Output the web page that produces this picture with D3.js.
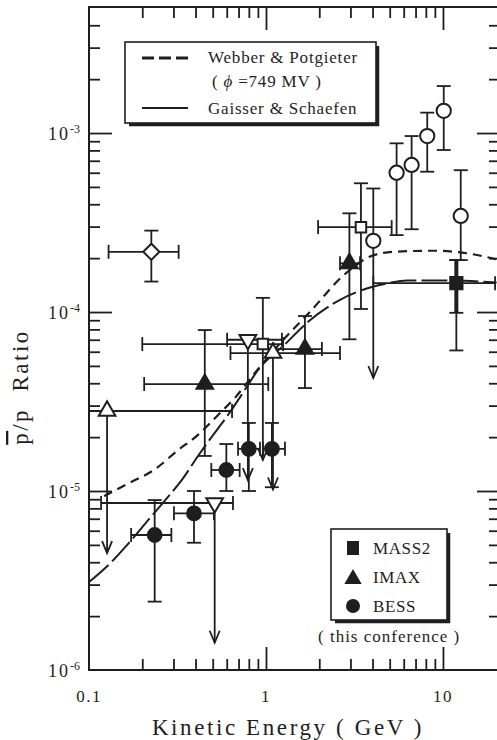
<!DOCTYPE html>
<html>
<head>
<meta charset="utf-8">
<script src="https://cdn.jsdelivr.net/npm/d3@7"></script>
<style>
body{margin:0;background:#fff;}
text{font-family:"Liberation Serif","DejaVu Serif",serif;fill:#1e1e1e;}
</style>
</head>
<body>
<svg id="chart" width="497" height="740"></svg>
<script>
// model curves
const webberE = [0.1216, 0.166, 0.235, 0.318, 0.413, 0.536, 0.665, 0.863, 1.25, 1.77, 2.68, 3.87, 5.22, 8.81, 13.6, 20.1];
const webberR = [9.37e-6, 1.10e-5, 1.32e-5, 1.69e-5, 2.06e-5, 2.66e-5, 3.30e-5, 4.55e-5, 6.98e-5, 1.0e-4, 1.57e-4, 2.04e-4, 2.17e-4, 2.20e-4, 2.13e-4, 1.97e-4];
const gaisserE = [0.1, 0.1315, 0.1706, 0.2164, 0.275, 0.334, 0.413, 0.47, 0.61, 0.758, 0.902, 1.28, 1.73, 2.62, 3.87, 4.91, 6.24, 10.5, 20.1];
const gaisserR = [3.10e-6, 3.94e-6, 5.21e-6, 6.89e-6, 9.1e-6, 1.15e-5, 1.57e-5, 1.88e-5, 2.66e-5, 3.66e-5, 4.75e-5, 6.6e-5, 8.83e-5, 1.17e-4, 1.37e-4, 1.45e-4, 1.5e-4, 1.5e-4, 1.46e-4];

// this conference
const mass2 = [{e: 11.9, r: 1.45e-4, elo: 4.04, ehi: 19.7, rlo: 9.9e-5, rhi: 1.95e-4, rlo2: 6.1e-5}];
const imax = [
  {e: 0.451, r: 3.96e-5, elo: 0.205, ehi: 1.03, rlo: 1.57e-5, rhi: 7.93e-5},
  {e: 1.66, r: 6.21e-5, elo: 1.10, ehi: 2.07, rlo: 3.76e-5, rhi: 9.5e-5},
  {e: 2.96, r: 1.87e-4, elo: 2.62, ehi: 3.40, rlo: 7.04e-5, rhi: 3.56e-4}
];
const bess = [
  {e: 0.235, r: 5.68e-6, elo: 0.173, ehi: 0.292, rlo: 2.41e-6, rhi: 8.9e-6},
  {e: 0.392, r: 7.5e-6, elo: 0.302, ehi: 0.508, rlo: 5.14e-6, rhi: 1.0e-5},
  {e: 0.597, r: 1.31e-5, elo: 0.491, ehi: 0.71, rlo: 1.0e-5, rhi: 1.83e-5},
  {e: 0.80, r: 1.72e-5, elo: 0.695, ehi: 0.925, rlo: 1.0e-5, rhi: 2.40e-5},
  {e: 1.08, r: 1.72e-5, elo: 0.962, ehi: 1.28, rlo: 1.05e-5, rhi: 2.40e-5}
];

// earlier measurements (open symbols), lim = upper limit arrow
const openCircles = [
  {e: 4.04, r: 2.50e-4, rhi: 4.9e-4, lim: 4.28e-5},
  {e: 5.47, r: 6.0e-4, rlo: 2.69e-4, rhi: 8.76e-4},
  {e: 6.65, r: 6.63e-4, rlo: 2.9e-4, rhi: 9.62e-4},
  {e: 8.15, r: 9.62e-4, rlo: 6.08e-4, rhi: 1.30e-3},
  {e: 10.1, r: 1.33e-3, rlo: 8.04e-4, rhi: 1.83e-3},
  {e: 12.6, r: 3.44e-4, rlo: 1.95e-4, rhi: 6.2e-4}
];
const openSquares = [
  {e: 0.96, r: 6.62e-5, elo: 0.2, ehi: 1.25, rhi: 1.2e-4, lim: 1.49e-5},
  {e: 3.44, r: 2.98e-4, elo: 1.97, ehi: 5.13, rlo: 1.04e-4, rhi: 5.24e-4}
];
const openDown = [
  {e: 0.79, r: 7.0e-5, elo: 0.603, ehi: 1.23, lim: 1.15e-5},
  {e: 0.513, r: 8.57e-6, elo: 0.117, ehi: 0.651, lim: 1.42e-6}
];
const openUp = [
  {e: 0.1265, r: 2.8e-5, elo: 0.09, ehi: 0.643, lim: 4.5e-6},
  {e: 1.095, r: 5.9e-5, elo: 0.63, ehi: 2.62, lim: 1.02e-5}
];
const openDiamond = [{e: 0.225, r: 2.17e-4, elo: 0.129, ehi: 0.321, rlo: 1.48e-4, rhi: 2.85e-4}];

// ticks
const xMajor = [0.1, 1, 10];
const xMajorLabels = ["0.1", "1", "10"];
const xMinor = [0.2, 0.3, 0.4, 0.5, 0.6, 0.7, 0.8, 0.9, 2, 3, 4, 5, 6, 7, 8, 9];
const yMajor = [1e-6, 1e-5, 1e-4, 1e-3];
const yMajorExp = ["-6", "-5", "-4", "-3"];
const yMinor = [2e-6, 3e-6, 4e-6, 5e-6, 6e-6, 7e-6, 8e-6, 9e-6,
                2e-5, 3e-5, 4e-5, 5e-5, 6e-5, 7e-5, 8e-5, 9e-5,
                2e-4, 3e-4, 4e-4, 5e-4, 6e-4, 7e-4, 8e-4, 9e-4,
                2e-3, 3e-3, 4e-3];

const ink = "#1e1e1e";
const L = 89, R = 500, T = 7, B = 670;
const svg = d3.select("#chart");
svg.append("rect").attr("width", 497).attr("height", 740).attr("fill", "#fff");

const x = d3.scaleLog().domain([0.1, 21]).range([L, R]);
const y = d3.scaleLog().domain([1e-6, 5.06e-3]).range([B, T]);

// axes, all ticks pointing inward
function ax(axisFn, vals, size, tr){
  let g = svg.append("g").attr("transform", tr)
    .call(axisFn.tickValues(vals).tickSize(-size).tickSizeOuter(0).tickFormat(""));
  g.select(".domain").remove();
  g.selectAll("line").attr("stroke", ink).attr("stroke-width", 1.8);
}
ax(d3.axisBottom(x), xMinor, 11, `translate(0,${B})`);
ax(d3.axisBottom(x), [1, 10], 23, `translate(0,${B})`);
ax(d3.axisTop(x), xMinor, 11, `translate(0,${T})`);
ax(d3.axisTop(x), [1, 10], 23, `translate(0,${T})`);
ax(d3.axisLeft(y), yMinor, 11, `translate(${L},0)`);
ax(d3.axisLeft(y), yMajor.slice(1), 23, `translate(${L},0)`);
ax(d3.axisRight(y), yMinor, 11, `translate(${R},0)`);
ax(d3.axisRight(y), yMajor.slice(1), 23, `translate(${R},0)`);

svg.append("rect").attr("x", L).attr("y", T).attr("width", R - L).attr("height", B - T)
  .attr("fill", "none").attr("stroke", ink).attr("stroke-width", 2);

// tick labels
svg.selectAll(".xl").data(xMajor).join("text").attr("class", "xl")
  .attr("x", d => x(d)).attr("y", 702).attr("text-anchor", "middle")
  .attr("font-size", 17).attr("letter-spacing", 1.5)
  .text((d, i) => xMajorLabels[i]);

let yl = svg.selectAll(".yl").data(yMajor).join("text").attr("class", "yl")
  .attr("x", 80).attr("y", d => y(d) + 7).attr("text-anchor", "end")
  .attr("font-size", 18).attr("letter-spacing", 2);
yl.append("tspan").text("10");
yl.append("tspan").attr("dy", -7).attr("font-size", 12).attr("letter-spacing", 0)
  .text((d, i) => yMajorExp[i]);

// axis titles
svg.append("text").attr("x", 288).attr("y", 735).attr("text-anchor", "middle")
  .attr("font-size", 23).attr("letter-spacing", 2.6).text("Kinetic Energy ( GeV )");
let yt = svg.append("text").attr("transform", "translate(28,387) rotate(-90)")
  .attr("text-anchor", "middle").attr("font-size", 23).attr("letter-spacing", 2.5);
yt.append("tspan").attr("text-decoration", "overline").text("p");
yt.append("tspan").text("/p\u00a0\u00a0Ratio");

// clip for data
svg.append("clipPath").attr("id", "plotclip").append("rect")
  .attr("x", L).attr("y", T).attr("width", R - L).attr("height", B - T);
const plot = svg.append("g").attr("clip-path", "url(#plotclip)");

// curves
const line = d3.line().x(d => x(d[0])).y(d => y(d[1])).curve(d3.curveMonotoneX);
plot.append("path").datum(d3.zip(webberE, webberR)).attr("d", line)
  .attr("fill", "none").attr("stroke", ink).attr("stroke-width", 2.2).attr("stroke-dasharray", "9,6");
plot.append("path").datum(d3.zip(gaisserE, gaisserR)).attr("d", line)
  .attr("fill", "none").attr("stroke", ink).attr("stroke-width", 2).attr("stroke-dasharray", "26,5");

// error bars
const cap = 7;
function seg(g, x1, y1, x2, y2, w){
  return g.append("line").attr("x1", x1).attr("y1", y1).attr("x2", x2).attr("y2", y2)
    .attr("stroke", ink).attr("stroke-width", w || 1.8);
}
function errBars(data){
  data.forEach(d => {
    const g = plot.append("g"), cx = x(d.e), cy = y(d.r);
    if (d.elo){
      seg(g, x(d.elo), cy, x(d.ehi), cy);
      seg(g, x(d.elo), cy - cap, x(d.elo), cy + cap);
      seg(g, x(d.ehi), cy - cap, x(d.ehi), cy + cap);
    }
    if (d.rhi){ seg(g, cx, cy, cx, y(d.rhi)); seg(g, cx - cap, y(d.rhi), cx + cap, y(d.rhi)); }
    if (d.rlo2){ seg(g, cx, cy, cx, y(d.rlo2)); seg(g, cx - cap, y(d.rlo2), cx + cap, y(d.rlo2)); }
    if (d.rlo){ seg(g, cx, cy, cx, y(d.rlo), d.rlo2 ? 4 : 1.8); seg(g, cx - cap, y(d.rlo), cx + cap, y(d.rlo)); }
    if (d.rlo2){ seg(g, cx, cy, cx, y(d.rhi), 4); seg(g, cx - cap, y(d.rhi), cx + cap, y(d.rhi)); }
    if (d.lim){
      const ty = y(d.lim);
      seg(g, cx, cy, cx, ty);
      g.append("path").attr("d", `M${cx - 5},${ty - 12}L${cx},${ty}L${cx + 5},${ty - 12}`)
        .attr("fill", "none").attr("stroke", ink).attr("stroke-width", 1.8);
    }
  });
}
[openDiamond, openUp, openDown, openSquares, openCircles, imax, bess, mass2].forEach(errBars);

// markers
function markers(data, type, size, filled, rot){
  plot.selectAll(null).data(data).join("path")
    .attr("d", d3.symbol().type(type).size(size))
    .attr("transform", d => `translate(${x(d.e)},${y(d.r)}) rotate(${rot || 0})`)
    .attr("fill", filled ? ink : "#fff").attr("stroke", ink).attr("stroke-width", 2);
}
markers(openDiamond, d3.symbolSquare, 130, false, 45);
markers(openUp, d3.symbolTriangle, 120, false);
markers(openDown, d3.symbolTriangle, 120, false, 180);
markers(openSquares, d3.symbolSquare, 110, false);
markers(openCircles, d3.symbolCircle, 160, false);
markers(imax, d3.symbolTriangle, 120, true);
markers(bess, d3.symbolCircle, 150, true);
markers(mass2, d3.symbolSquare, 150, true);

// legend: models
function box(x0, y0, w, h){
  svg.append("path").attr("d", `M${x0 + 4},${y0 + h + 1.5}H${x0 + w + 1.5}V${y0 + 4}`)
    .attr("fill", "none").attr("stroke", ink).attr("stroke-width", 3.5);
  svg.append("rect").attr("x", x0).attr("y", y0).attr("width", w).attr("height", h)
    .attr("fill", "#fff").attr("stroke", ink).attr("stroke-width", 1.6);
}
box(125, 42, 251, 81);
seg(svg, 142, 58, 188, 58, 3).attr("stroke-dasharray", "12,5");
seg(svg, 142, 108, 188, 108, 2);
svg.append("text").attr("x", 208).attr("y", 63).attr("font-size", 17).attr("letter-spacing", 0.8)
  .text("Webber & Potgieter");
let phi = svg.append("text").attr("x", 212).attr("y", 87).attr("font-size", 17).attr("letter-spacing", 0.8);
phi.append("tspan").text("( ");
phi.append("tspan").attr("font-style", "italic").text("\u03d5");
phi.append("tspan").text(" =749 MV )");
svg.append("text").attr("x", 208).attr("y", 114).attr("font-size", 17).attr("letter-spacing", 0.8)
  .text("Gaisser & Schaefen");

// legend: this conference
box(331, 529, 116, 91);
svg.append("rect").attr("x", 347).attr("y", 541).attr("width", 12).attr("height", 14).attr("fill", ink);
svg.append("path").attr("d", d3.symbol().type(d3.symbolTriangle).size(130)())
  .attr("transform", "translate(353,579)").attr("fill", ink);
svg.append("circle").attr("cx", 353).attr("cy", 606).attr("r", 7).attr("fill", ink);
const legNames = ["MASS2", "IMAX", "BESS"];
svg.selectAll(".ln").data(legNames).join("text").attr("class", "ln")
  .attr("x", 373).attr("y", (d, i) => 554 + i * 29).attr("font-size", 17).attr("letter-spacing", 0.6)
  .text(d => d);
svg.append("text").attr("x", 318).attr("y", 642).attr("font-size", 17).attr("letter-spacing", 1)
  .text("( this conference )");
</script>
</body>
</html>
